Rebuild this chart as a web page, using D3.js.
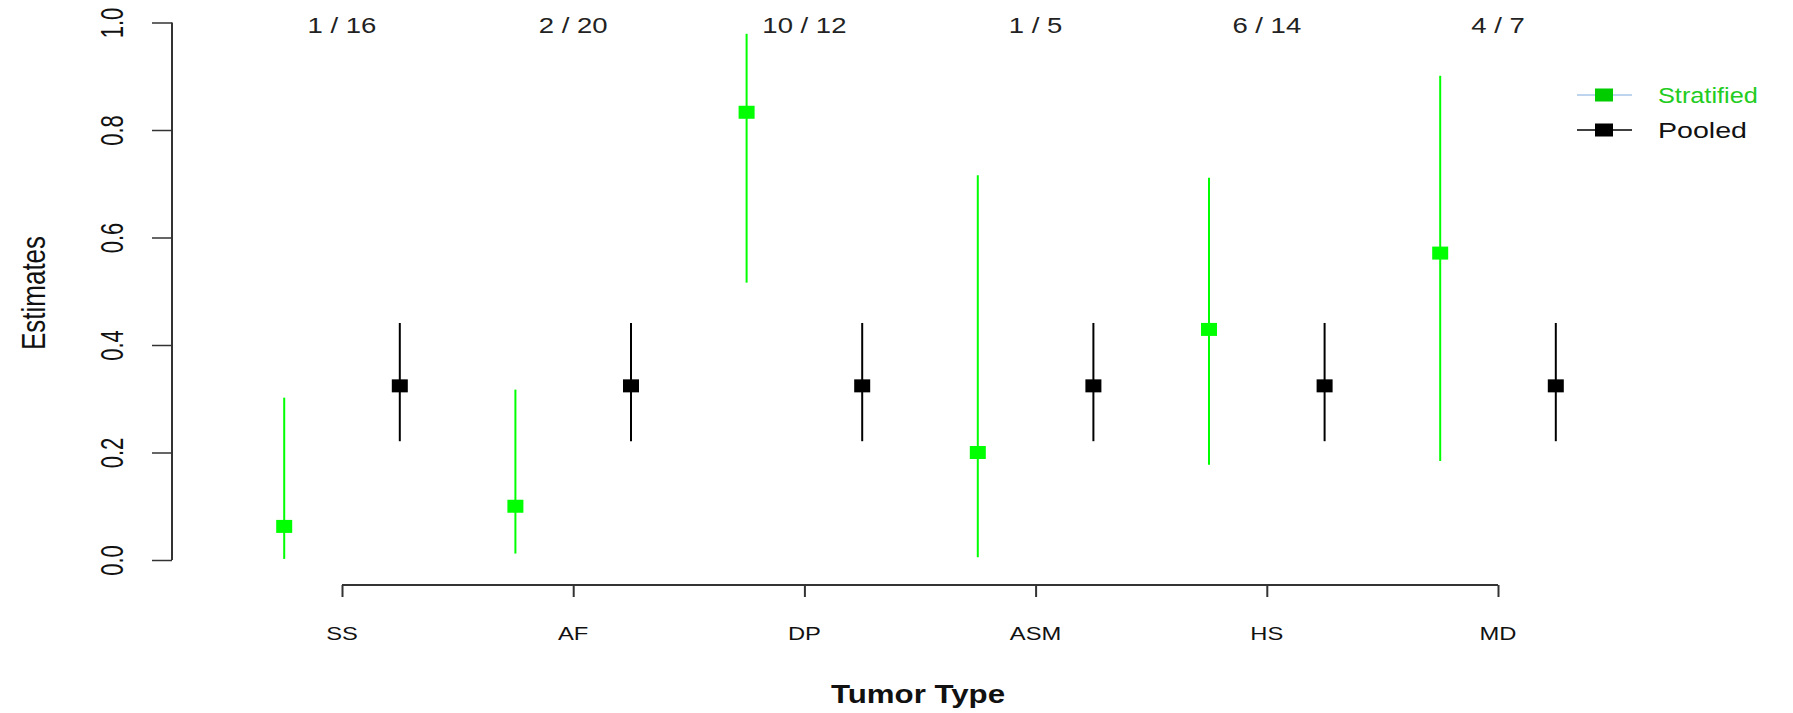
<!DOCTYPE html>
<html>
<head>
<meta charset="utf-8">
<script src="https://cdn.jsdelivr.net/npm/d3@7"></script>
<style>
	body { margin: 0; background: #fff; }
	text { font-family: "Liberation Sans", Arial, sans-serif; fill: #111; }
</style>
</head>
<body>
<svg id="SVG" width="1793" height="713"></svg>
<script>
// 数据
const tumorTypes = ['SS', 'AF', 'DP', 'ASM', 'HS', 'MD'];
const counts = ['1 / 16', '2 / 20', '10 / 12', '1 / 5', '6 / 14', '4 / 7'];
const stratEst = [0.0625, 0.1, 0.833, 0.2, 0.429, 0.571];
const stratLow = [0.002, 0.012, 0.516, 0.005, 0.177, 0.184];
const stratHigh = [0.302, 0.317, 0.979, 0.716, 0.711, 0.901];
const pooledEst = [0.324, 0.324, 0.324, 0.324, 0.324, 0.324];
const pooledLow = [0.221, 0.221, 0.221, 0.221, 0.221, 0.221];
const pooledHigh = [0.441, 0.441, 0.441, 0.441, 0.441, 0.441];
const yTicks = [0, 0.2, 0.4, 0.6, 0.8, 1.0];

const sx = 1.25; // 原图横向拉伸
const green = '#00ff00';

const svg = d3.select('#SVG');
const x = d3.scalePoint().domain(tumorTypes).range([342, 1498]);
const y = d3.scaleLinear().domain([0, 1]).range([560, 22.5]);
const off = x.step() * 0.25;

// 横向文字
const hText = (px, py, str, size, opts = {}) => svg.append('text')
	.attr('transform', `translate(${px},${py}) scale(${opts.sx || sx},1)`)
	.attr('text-anchor', opts.anchor || 'middle')
	.style('font-size', size + 'px')
	.style('font-weight', opts.bold ? 'bold' : 'normal')
	.style('fill', opts.color || '#111')
	.text(str);

// y 轴
const yAxis = svg.append('g').attr('transform', 'translate(172,0)')
	.call(d3.axisLeft(y).tickValues(yTicks).tickSize(20).tickFormat(d3.format('.1f')));
yAxis.select('.domain').attr('d', `M0,${y(0)}V${y(1)}`).attr('stroke', '#333').attr('stroke-width', 2);
yAxis.selectAll('.tick line').attr('stroke', '#333').attr('stroke-width', 1.5);
yAxis.selectAll('.tick text')
	.attr('x', null).attr('dy', null)
	.attr('transform', `translate(-49,0) rotate(-90) scale(1,1.4)`)
	.attr('text-anchor', 'middle')
	.style('font-size', '22px').style('font-family', '"Liberation Sans", Arial, sans-serif').style('fill', '#111');

svg.append('text').attr('transform', `translate(45,293) rotate(-90) scale(1,1.3)`)
	.attr('text-anchor', 'middle').style('font-size', '26px').text('Estimates');

// x 轴
const xAxis = svg.append('g').attr('transform', 'translate(0,585)')
	.call(d3.axisBottom(x).tickSize(12).tickFormat(''));
xAxis.select('.domain').attr('d', `M${x('SS')},0H${x('MD')}`).attr('stroke', '#333').attr('stroke-width', 2);
xAxis.selectAll('.tick line').attr('stroke', '#333').attr('stroke-width', 2);
tumorTypes.forEach((t) => hText(x(t), 640, t, 19));
hText(918, 703, 'Tumor Type', 25, { bold: true });

// 顶部计数
tumorTypes.forEach((t, i) => hText(x(t), 33, counts[i], 22, { color: '#222' }));

// 误差线 + 点
const drawSeries = (est, lo, hi, dx, color, w) => {
	const g = svg.append('g');
	g.selectAll('line').data(tumorTypes).enter().append('line')
		.attr('x1', (d) => x(d) + dx).attr('x2', (d) => x(d) + dx)
		.attr('y1', (d, i) => y(lo[i])).attr('y2', (d, i) => y(hi[i]))
		.attr('stroke', color).attr('stroke-width', w);
	g.selectAll('rect').data(tumorTypes).enter().append('rect')
		.attr('x', (d) => x(d) + dx - 8).attr('y', (d, i) => y(est[i]) - 6.5)
		.attr('width', 16).attr('height', 13).attr('fill', color);
};
drawSeries(stratEst, stratLow, stratHigh, -off, green, 2);
drawSeries(pooledEst, pooledLow, pooledHigh, off, '#000', 2);

// 图例
const legend = [
	{ name: 'Stratified', line: '#7ea8de', lw: 1, mark: '#00cc00', txt: '#22cc22', y: 95, sx: 1.15 },
	{ name: 'Pooled', line: '#000', lw: 1.5, mark: '#000', txt: '#111', y: 130, sx: 1.3 },
];
legend.forEach((l) => {
	svg.append('line').attr('x1', 1577).attr('x2', 1632).attr('y1', l.y).attr('y2', l.y)
		.attr('stroke', l.line).attr('stroke-width', l.lw);
	svg.append('rect').attr('x', 1595).attr('y', l.y - 6.5).attr('width', 18).attr('height', 13).attr('fill', l.mark);
	hText(1658, l.y + 8, l.name, 22, { anchor: 'start', color: l.txt, sx: l.sx });
});
</script>
</body>
</html>
